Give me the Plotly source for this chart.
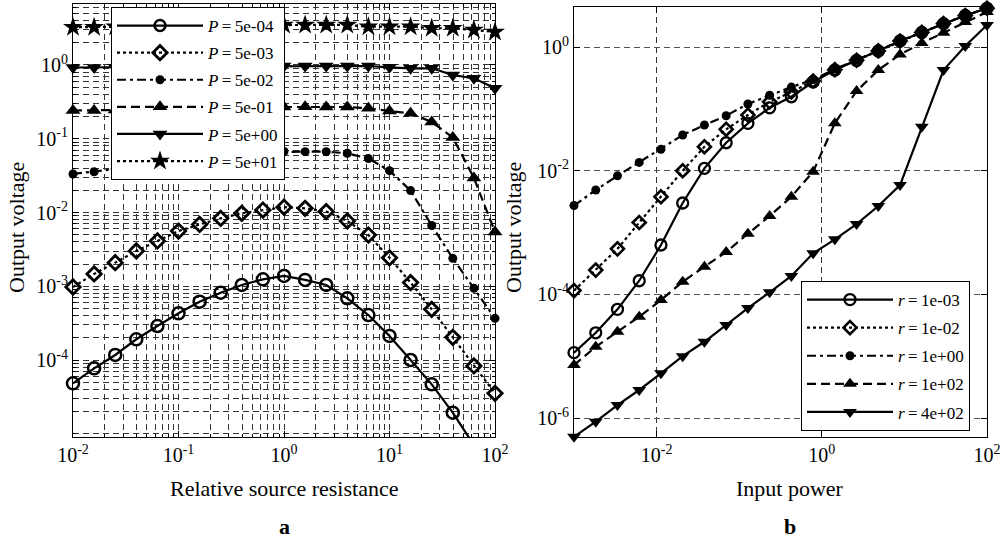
import plotly.graph_objects as go

# ---------------- data: panel a ----------------
rel_resistance = [0.01, 0.01585, 0.02512, 0.03981, 0.0631, 0.1, 0.1585, 0.2512, 0.3981, 0.631,
                  1.0, 1.585, 2.512, 3.981, 6.31, 10.0, 15.85, 25.12, 39.81, 63.1, 100.0]
va_p5em4 = [4.83e-5, 7.71e-5, 1.17e-4, 1.91e-4, 2.89e-4, 4.30e-4, 6.17e-4, 8.18e-4, 1.04e-3, 1.24e-3,
            1.38e-3, 1.22e-3, 1.04e-3, 6.87e-4, 4.07e-4, 2.12e-4, 1.0e-4, 4.68e-5, 1.93e-5, 7.0e-6, 2.3e-6]
va_p5em3 = [9.77e-4, 1.47e-3, 2.09e-3, 3.01e-3, 4.11e-3, 5.61e-3, 6.88e-3, 8.34e-3, 9.75e-3, 1.08e-2,
            1.18e-2, 1.14e-2, 1.03e-2, 7.67e-3, 4.95e-3, 2.43e-3, 1.12e-3, 4.87e-4, 2.03e-4, 8.3e-5, 3.53e-5]
va_p5em2 = [3.33e-2, 3.57e-2, 3.89e-2, 4.27e-2, 4.69e-2, 5.15e-2, 5.66e-2, 6.02e-2, 6.41e-2, 6.61e-2,
            6.72e-2, 6.68e-2, 6.68e-2, 6.35e-2, 5.40e-2, 3.69e-2, 1.98e-2, 6.67e-3, 2.39e-3, 9.38e-4, 3.67e-4]
va_p5em1 = [0.2415, 0.2415, 0.2454, 0.249, 0.253, 0.257, 0.261, 0.265, 0.267, 0.2695,
            0.2695, 0.272, 0.2695, 0.2695, 0.259, 0.2377, 0.2214, 0.1687, 0.104, 0.0294, 5.44e-3]
va_p5e0 = [0.925, 0.925, 0.93, 0.935, 0.94, 0.945, 0.95, 0.955, 0.96, 0.965,
           0.969, 0.969, 0.969, 0.969, 0.969, 0.931, 0.902, 0.902, 0.732, 0.660, 0.483]
va_p5e1 = [3.25, 3.25, 3.3, 3.33, 3.36, 3.38, 3.4, 3.42, 3.44, 3.46,
           3.48, 3.49, 3.49, 3.49, 3.31, 3.31, 3.31, 3.15, 3.15, 2.98, 2.80]
labels_a = ["5e-04", "5e-03", "5e-02", "5e-01", "5e+00", "5e+01"]

# ---------------- data: panel b ----------------
input_power = [0.001, 0.001833, 0.00336, 0.006158, 0.01129, 0.02069, 0.03793, 0.06952, 0.1274, 0.2336,
               0.4281, 0.7848, 1.438, 2.637, 4.833, 8.859, 16.24, 29.76, 54.56, 100.0]
vb_r1em3 = [1.14e-5, 2.39e-5, 5.73e-5, 1.66e-4, 6.28e-4, 3.00e-3, 1.09e-2, 2.83e-2, 5.83e-2, 0.104,
            0.157, 0.272, 0.424, 0.605, 0.862, 1.25, 1.72, 2.39, 3.23, 4.23]
vb_r1em2 = [1.15e-4, 2.47e-4, 5.45e-4, 1.45e-3, 3.79e-3, 9.98e-3, 2.44e-2, 4.67e-2, 7.95e-2, 0.130,
            0.187, 0.282, 0.43, 0.61, 0.865, 1.25, 1.72, 2.39, 3.23, 4.23]
vb_r1e0 = [2.73e-3, 4.87e-3, 8.26e-3, 1.36e-2, 2.22e-2, 3.77e-2, 5.47e-2, 7.74e-2, 0.120, 0.166,
           0.225, 0.297, 0.441, 0.616, 0.868, 1.26, 1.72, 2.39, 3.23, 4.23]
vb_r1e2 = [7.19e-6, 1.42e-5, 2.48e-5, 4.35e-5, 8.09e-5, 1.60e-4, 2.80e-4, 4.83e-4, 9.55e-4, 1.85e-3,
           3.79e-3, 9.62e-3, 5.83e-2, 0.194, 0.425, 0.756, 1.16, 1.70, 2.54, 3.68]
vb_r4e2 = [4.98e-7, 8.71e-7, 1.62e-6, 2.84e-6, 5.28e-6, 1.00e-5, 1.71e-5, 3.19e-5, 6.01e-5, 1.08e-4,
           1.98e-4, 4.61e-4, 7.76e-4, 1.37e-3, 2.68e-3, 5.86e-3, 5.14e-2, 0.425, 1.04, 2.27]
labels_b = ["1e-03", "1e-02", "1e+00", "1e+02", "4e+02"]

xticks_a = [0.01, 0.1, 1, 10, 100]
xtext_a = ["10<sup>-2</sup>", "10<sup>-1</sup>", "10<sup>0</sup>", "10<sup>1</sup>", "10<sup>2</sup>"]
yticks_a = [1e-4, 1e-3, 1e-2, 1e-1, 1]
ytext_a = ["10<sup>-4</sup>", "10<sup>-3</sup>", "10<sup>-2</sup>", "10<sup>-1</sup>", "10<sup>0</sup>"]
xticks_b = [0.01, 1, 100]
xtext_b = ["10<sup>-2</sup>", "10<sup>0</sup>", "10<sup>2</sup>"]
yticks_b = [1e-6, 1e-4, 1e-2, 1]
ytext_b = ["10<sup>-6</sup>", "10<sup>-4</sup>", "10<sup>-2</sup>", "10<sup>0</sup>"]

FONT = "Liberation Serif"
W, H = 1005, 543
YR_A = [-5.044, 0.827]
XR_B = [-3, 2]
YR_B = [-6.307, 0.647]

fig = go.Figure()

styles_a = [
    dict(symbol="circle-open", size=12, dash="solid", lw=2.2, mlw=2.5),
    dict(symbol="diamond-open", size=11, dash="3px,3px", lw=2.2, mlw=2.8),
    dict(symbol="circle", size=9, dash="9px,4px,3px,4px", lw=2.2, mlw=0),
    dict(symbol="triangle-up", size=13, dash="9px,5px", lw=2.2, mlw=0),
    dict(symbol="triangle-down", size=13, dash="solid", lw=2.2, mlw=0),
    dict(symbol="star", size=15, dash="3px,3px", lw=2.2, mlw=0),
]
series_a = [va_p5em4, va_p5em3, va_p5em2, va_p5em1, va_p5e0, va_p5e1]

lo, hi = 10 ** YR_A[0], 10 ** YR_A[1]
for i, (ys, st, lab) in enumerate(zip(series_a, styles_a, labels_a)):
    sizes = [st["size"] if lo <= v <= hi else 0 for v in ys]
    fig.add_trace(go.Scatter(
        x=rel_resistance, y=ys, mode="lines+markers", xaxis="x", yaxis="y",
        name=f"<i>P</i>\u2009=\u2009{lab}", legend="legend", legendgroup=f"a{i}",
        line=dict(color="#000000", width=st["lw"], dash=st["dash"]),
        marker=dict(symbol=st["symbol"], size=sizes, color="#000000", opacity=1,
                    line=dict(color="#000000", width=st["mlw"])),
        opacity=1, cliponaxis=False,
    ))

styles_b = [
    dict(symbol="circle-open", size=11, dash="solid", lw=2.2, mlw=2.3),
    dict(symbol="diamond-open", size=10, dash="3px,3px", lw=2.2, mlw=2.6),
    dict(symbol="circle", size=9, dash="9px,4px,3px,4px", lw=2.2, mlw=0),
    dict(symbol="triangle-up", size=12, dash="9px,5px", lw=2.2, mlw=0),
    dict(symbol="triangle-down", size=12, dash="solid", lw=2.2, mlw=0),
]
series_b = [vb_r1em3, vb_r1em2, vb_r1e0, vb_r1e2, vb_r4e2]
for i, (ys, st, lab) in enumerate(zip(series_b, styles_b, labels_b)):
    fig.add_trace(go.Scatter(
        x=input_power, y=ys, mode="lines+markers", xaxis="x2", yaxis="y2",
        name=f"<i>r</i>\u2009=\u2009{lab}", legend="legend2", legendgroup=f"b{i}",
        line=dict(color="black", width=st["lw"], dash=st["dash"]),
        marker=dict(symbol=st["symbol"], size=st["size"], color="black",
                    line=dict(color="black", width=st["mlw"])),
        cliponaxis=False,
    ))

tickfont = dict(family=FONT, size=20, color="black")
gridA = dict(showgrid=True, gridcolor="#333", gridwidth=0.8, griddash="6px,4px")
minorA = dict(dtick="D1", showgrid=True, gridcolor="#333", gridwidth=0.8, griddash="6px,4px",
              ticks="inside", ticklen=3, tickcolor="black")
common = dict(type="log", showline=True, linecolor="black", linewidth=1, mirror="allticks",
              ticks="inside", ticklen=6, tickcolor="black", tickfont=tickfont, zeroline=False,
              automargin=False)

legfont = dict(family=FONT, size=17, color="black")
fig.update_layout(
    width=W, height=H, margin=dict(l=0, r=0, t=0, b=0, autoexpand=False),
    paper_bgcolor="white", plot_bgcolor="white", showlegend=True,
    xaxis=dict(domain=[73 / W, 495 / W], range=[-2, 2], anchor="y",
               tickvals=xticks_a, ticktext=xtext_a, minor=minorA, **gridA, **common),
    yaxis=dict(domain=[1 - 437 / H, 1 - 4 / H], range=YR_A, anchor="x",
               tickvals=yticks_a, ticktext=ytext_a, minor=minorA, **gridA, **common),
    xaxis2=dict(domain=[574 / W, 987 / W], range=XR_B, anchor="y2",
                tickvals=xticks_b, ticktext=xtext_b, showgrid=True, gridcolor="#333",
                gridwidth=0.8, griddash="6px,4px", **common),
    yaxis2=dict(domain=[1 - 437 / H, 1 - 7 / H], range=YR_B, anchor="x2",
                tickvals=yticks_b, ticktext=ytext_b, showgrid=True, gridcolor="#555",
                gridwidth=0.8, griddash="6px,4px", **common),
    legend=dict(x=111 / W, y=1 - 7 / H, xanchor="left", yanchor="top",
                bgcolor="white", bordercolor="black", borderwidth=1,
                font=legfont, itemwidth=86, traceorder="grouped", tracegroupgap=2),
    legend2=dict(x=801 / W, y=1 - 281 / H, xanchor="left", yanchor="top",
                 bgcolor="white", bordercolor="black", borderwidth=1,
                 font=legfont, itemwidth=86, traceorder="grouped", tracegroupgap=3),
)

titlefont = dict(family=FONT, size=22, color="black")
ann = [
    dict(text="Relative source resistance", x=284 / W, y=1 - 488 / H),
    dict(text="Input power", x=790 / W, y=1 - 488 / H),
    dict(text="<b>a</b>", x=284 / W, y=1 - 526 / H),
    dict(text="<b>b</b>", x=790 / W, y=1 - 526 / H),
]
for a in ann:
    fig.add_annotation(xref="paper", yref="paper", showarrow=False, font=titlefont,
                       xanchor="center", yanchor="middle", **a)
for xc in (16, 513):
    fig.add_annotation(text="Output voltage", xref="paper", yref="paper", x=xc / W, y=1 - 228 / H,
                       showarrow=False, textangle=-90, font=titlefont,
                       xanchor="center", yanchor="middle")

fig.write_html("out.html", config={"displayModeBar": False},
               post_script="document.body.style.margin='0px';")
